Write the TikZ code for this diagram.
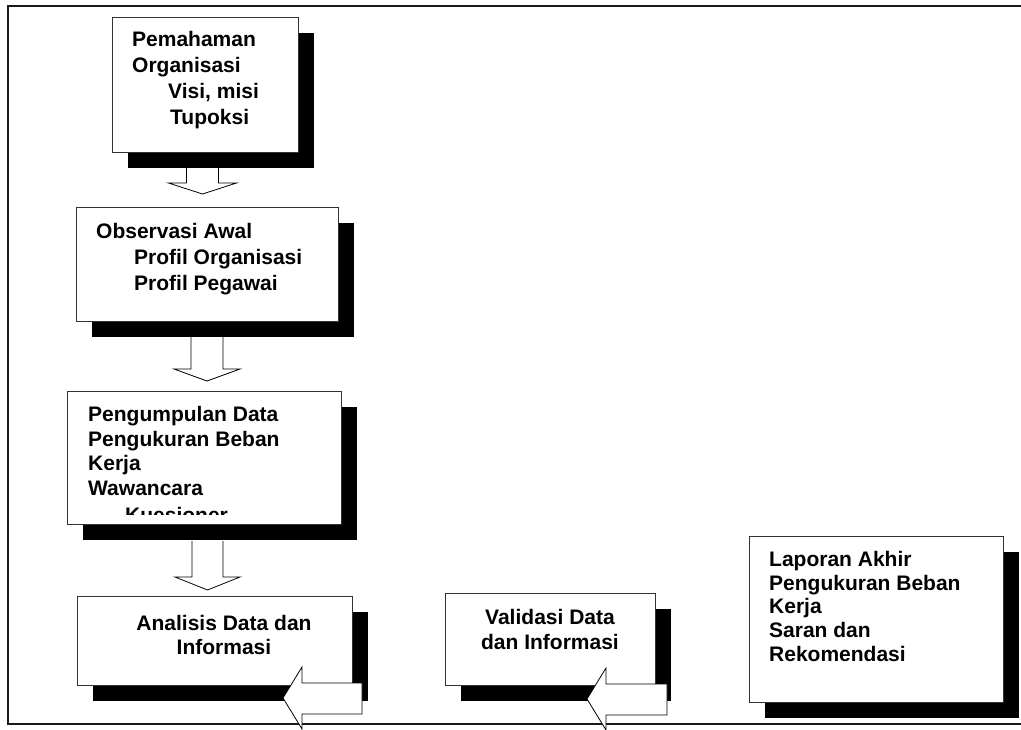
\documentclass[tikz,border=0pt]{standalone}
\usepackage{fontspec}
\setmainfont{Liberation Sans}
\usetikzlibrary{shadows}
\tikzset{
  card/.style={draw=black!80, line width=0.8pt, fill=white, inner sep=0pt,
    anchor=north west,
    drop shadow={shadow xshift=16pt, shadow yshift=-16pt, opacity=1, fill=black, draw=none}},
  lbl/.style={font=\bfseries\fontsize{21}{25}\selectfont, inner sep=0pt, anchor=base west},
  clbl/.style={lbl, anchor=base},
  hollow/.style={draw=black, line width=0.8pt, fill=white, line join=miter},
  frame/.style={draw=black!90, line width=1.8pt}
}
\begin{document}
\begin{tikzpicture}[x=1pt, y=-1pt]
\path[use as bounding box, clip] (0,0) rectangle (1021,729);

% outer frame, its right side runs off the page
\draw[frame] (8,6) rectangle (1040,724);

% step boxes
\node[card, minimum width=186pt, minimum height=135pt] (pemahaman) at (112,17) {};
\node[card, minimum width=262pt, minimum height=114pt] (observasi) at (76,207) {};
\node[card, minimum width=274pt, minimum height=133pt] (pengumpulan) at (67,391) {};
\node[card, minimum width=275pt, minimum height=89pt] (analisis) at (77,596) {};
\node[card, minimum width=210pt, minimum height=92pt] (validasi) at (445,593) {};
\node[card, minimum width=254pt, minimum height=166pt] (laporan) at (749,536) {};

% box texts
\node[lbl] (p1) at (132,46.5) {Pemahaman};
\node[lbl] (p2) at (132,72) {Organisasi};
\node[lbl] (p3) at (168,98) {Visi, misi};
\node[lbl] (p4) at (170,124) {Tupoksi};

\node[lbl] (o1) at (96,238) {Observasi Awal};
\node[lbl] (o2) at (134,264) {Profil Organisasi};
\node[lbl] (o3) at (134,290) {Profil Pegawai};

\node[lbl] (k1) at (88,421) {Pengumpulan Data};
\node[lbl] (k2) at (88,446) {Pengukuran Beban};
\node[lbl] (k3) at (88,470) {Kerja};
\node[lbl] (k4) at (88,495) {Wawancara};
\begin{scope}
  \clip (67,391) rectangle (341,514);
  \node[lbl] (k5) at (125,522) {Kuesioner};
\end{scope}

\node[clbl] (a1) at (224,630) {Analisis Data dan};
\node[clbl] (a2) at (224,654) {Informasi};

\node[clbl] (v1) at (550,624) {Validasi Data};
\node[clbl] (v2) at (550,649) {dan Informasi};

\node[lbl] (l1) at (769,566) {Laporan Akhir};
\node[lbl] (l2) at (769,590) {Pengukuran Beban};
\node[lbl] (l3) at (769,613) {Kerja};
\node[lbl] (l4) at (769,637) {Saran dan};
\node[lbl] (l5) at (769,661) {Rekomendasi};

% hollow block arrows pointing down
\draw[hollow] (186.5,168) -- (186.5,183) -- (168.5,183) -- (202.5,194)
  -- (236.5,183) -- (218.5,183) -- (218.5,168);
\draw[hollow] (191,337) -- (191,369) -- (174,369) -- (207,381)
  -- (240,369) -- (223,369) -- (223,337);
\draw[hollow] (192,541) -- (192,577) -- (175,577) -- (207.5,590)
  -- (240,577) -- (223,577) -- (223,541);

% hollow block arrows pointing left
\draw[hollow] (362,683) -- (302,683) -- (302,667) -- (283,698)
  -- (302,729) -- (302,714) -- (362,714) -- cycle;
\draw[hollow] (667,684) -- (606,684) -- (606,668) -- (587,699)
  -- (606,730) -- (606,715) -- (667,715) -- cycle;
\end{tikzpicture}
\end{document}
